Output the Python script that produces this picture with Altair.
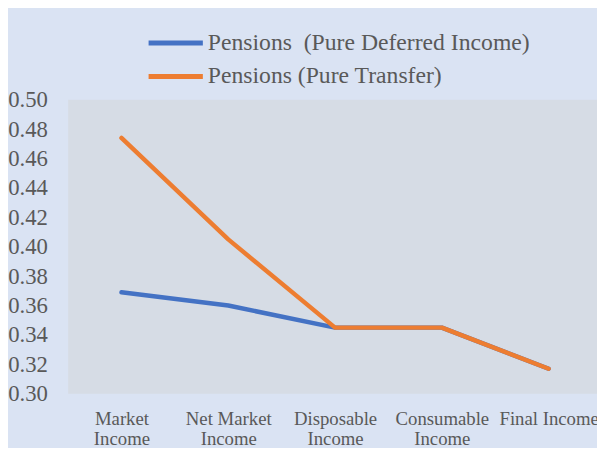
import altair as alt
import pandas as pd

categories = ["Market Income", "Net Market Income", "Disposable Income",
              "Consumable Income", "Final Income"]
tick_lines = [["Market", "Income"], ["Net Market", "Income"], ["Disposable", "Income"],
              ["Consumable", "Income"], ["Final Income"]]
series_names = ["Pensions\u00a0 (Pure Deferred Income)", "Pensions (Pure Transfer)"]
deferred = [0.369, 0.360, 0.345, 0.345, 0.317]
transfer = [0.474, 0.405, 0.345, 0.345, 0.317]
series_colors = ["#4472c4", "#ed7d31"]
y_ticks = [0.30, 0.32, 0.34, 0.36, 0.38, 0.40, 0.42, 0.44, 0.46, 0.48, 0.50]

rows = []
for name, vals in zip(series_names, [deferred, transfer]):
    for cat, v in zip(categories, vals):
        rows.append({"category": cat, "series": name, "value": v})
df = pd.DataFrame(rows)

# multi-line x labels
expr = "datum.label"
for cat, lines in reversed(list(zip(categories, tick_lines))):
    arr = "[" + ",".join("'" + s + "'" for s in lines) + "]"
    expr = f"datum.value == '{cat}' ? {arr} : ({expr})"

FONT = "Liberation Serif"
TXT = "#595959"

chart = alt.Chart(df).mark_line(strokeWidth=4.5, strokeCap="round", strokeJoin="round").encode(
    x=alt.X("category:N", sort=categories, title=None,
            scale=alt.Scale(type="point", range=[54, 487], padding=0),
            axis=alt.Axis(labelAngle=0, labelExpr=expr, labelFont=FONT, labelFontSize=19,
                          labelColor=TXT, labelBaseline="top", labelLineHeight=20,
                          labelPadding=16, ticks=False, domain=False, grid=False,
                          labelLimit=0)),
    y=alt.Y("value:Q", title=None,
            scale=alt.Scale(domain=[0.30, 0.50], nice=False, zero=False),
            axis=alt.Axis(values=y_ticks, format=".2f", labelFont=FONT, labelFontSize=23,
                          labelColor=TXT, labelPadding=21, ticks=False, domain=False,
                          grid=False)),
    color=alt.Color("series:N", sort=series_names,
                    scale=alt.Scale(domain=series_names, range=series_colors),
                    legend=alt.Legend(title=None, orient="none", legendX=79, legendY=-70,
                                      symbolType="M-2.75,0H2.75", symbolSize=400,
                                      symbolStrokeWidth=5, symbolOffset=17.5,
                                      labelFont=FONT, labelFontSize=24, labelColor=TXT,
                                      labelOffset=20, rowPadding=9, padding=0,
                                      labelLimit=0)),
).properties(
    width=536, height=298,
    background="#dae3f3",
    autosize=alt.AutoSizeParams(type="none"),
    padding={"left": 61, "top": 90, "right": 0, "bottom": 52},
).configure_view(fill="#d6dce5", stroke=None)

chart.save("out.html", embed_options={"renderer": "svg", "actions": False})
